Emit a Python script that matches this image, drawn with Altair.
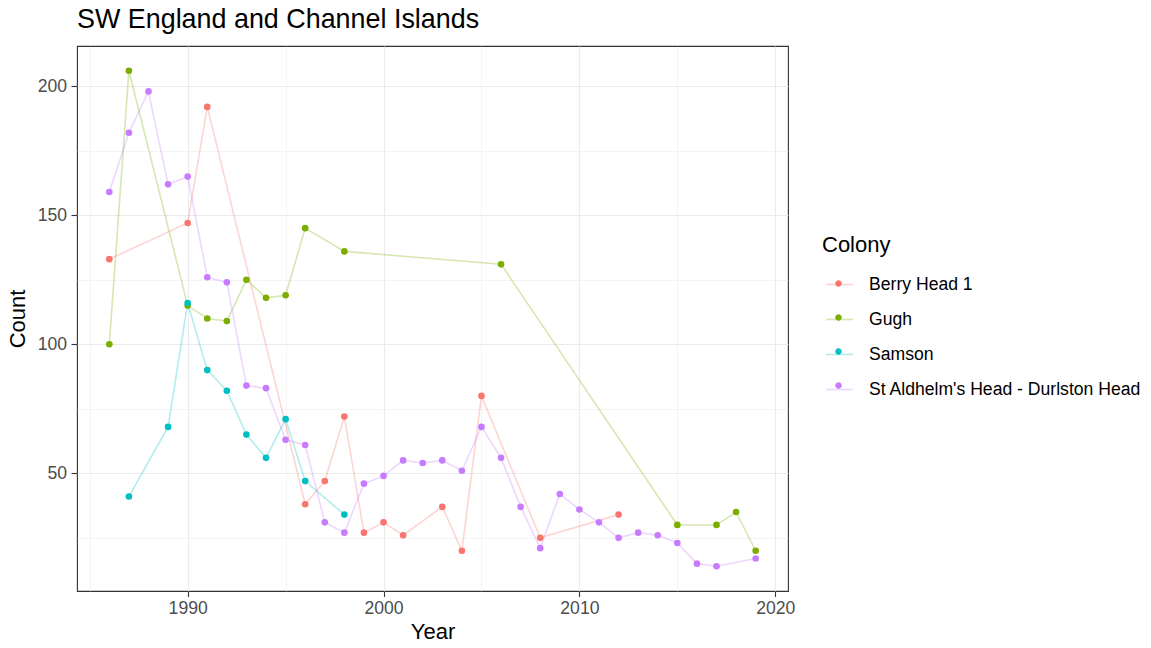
import altair as alt
import pandas as pd

# Colony counts by year
berry_years = [1986, 1990, 1991, 1996, 1997, 1998, 1999, 2000, 2001, 2003, 2004, 2005, 2008, 2012]
berry_counts = [133, 147, 192, 38, 47, 72, 27, 31, 26, 37, 20, 80, 25, 34]

gugh_years = [1986, 1987, 1990, 1991, 1992, 1993, 1994, 1995, 1996, 1998, 2006, 2015, 2017, 2018, 2019]
gugh_counts = [100, 206, 115, 110, 109, 125, 118, 119, 145, 136, 131, 30, 30, 35, 20]

samson_years = [1987, 1989, 1990, 1991, 1992, 1993, 1994, 1995, 1996, 1998]
samson_counts = [41, 68, 116, 90, 82, 65, 56, 71, 47, 34]

aldhelm_years = [1986, 1987, 1988, 1989, 1990, 1991, 1992, 1993, 1994, 1995, 1996, 1997,
                 1998, 1999, 2000, 2001, 2002, 2003, 2004, 2005, 2006, 2007, 2008, 2009,
                 2010, 2011, 2012, 2013, 2014, 2015, 2016, 2017, 2019]
aldhelm_counts = [159, 182, 198, 162, 165, 126, 124, 84, 83, 63, 61, 31,
                  27, 46, 49, 55, 54, 55, 51, 68, 56, 37, 21, 42,
                  36, 31, 25, 27, 26, 23, 15, 14, 17]

colonies = ["Berry Head 1", "Gugh", "Samson", "St Aldhelm's Head - Durlston Head"]
palette = ["#F8766D", "#7CAE00", "#00BFC4", "#C77CFF"]

x_breaks = [1985, 1990, 1995, 2000, 2005, 2010, 2015, 2020]
y_breaks = [25, 50, 75, 100, 125, 150, 175, 200]

series = [
    (colonies[0], berry_years, berry_counts),
    (colonies[1], gugh_years, gugh_counts),
    (colonies[2], samson_years, samson_counts),
    (colonies[3], aldhelm_years, aldhelm_counts),
]
rows = []
for name, yrs, cnts in series:
    for yr, c in zip(yrs, cnts):
        rows.append({"Colony": name, "Year": yr, "Count": c})
df = pd.DataFrame(rows)

FONT = "Liberation Sans"

# small filled disc used as the legend key for the point layer
DOT_PATH = "M -0.24,0 A 0.24,0.24 0 1,0 0.24,0 A 0.24,0.24 0 1,0 -0.24,0 Z"

x_enc = alt.X(
    "Year:Q",
    title="Year",
    scale=alt.Scale(domain=[1984.35, 2020.65], nice=False, zero=False),
    axis=alt.Axis(
        values=x_breaks,
        format="d",
        labelExpr="datum.value % 10 === 0 ? datum.label : ''",
        labelFlush=False,
        labelOverlap=False,
        tickSize={"condition": {"test": "datum.value % 10 === 0", "value": 5.5}, "value": 0},
        gridWidth={"condition": {"test": "datum.value % 10 === 0", "value": 1.1}, "value": 0.55},
        titlePadding=4,
    ),
)
y_enc = alt.Y(
    "Count:Q",
    title="Count",
    scale=alt.Scale(domain=[4.4, 215.6], nice=False, zero=False),
    axis=alt.Axis(
        values=y_breaks,
        labelExpr="datum.value % 50 === 0 ? datum.label : ''",
        labelOverlap=False,
        labelFlush=False,
        labelPadding=4.5,
        tickSize={"condition": {"test": "datum.value % 50 === 0", "value": 6}, "value": 0},
        gridWidth={"condition": {"test": "datum.value % 50 === 0", "value": 1.1}, "value": 0.55},
        titlePadding=7.5,
    ),
)

legend_common = dict(
    orient="none",
    legendX=745,
    legendY=189,
    padding=0,
    symbolSize=729,
    symbolOffset=3,
    labelOffset=15,
    labelLimit=500,
    rowPadding=11,
    titlePadding=13,
)

lines = alt.Chart(df).mark_line(strokeWidth=1.6, opacity=0.3).encode(
    x=x_enc,
    y=y_enc,
    order="Year:Q",
    stroke=alt.Stroke(
        "Colony:N",
        scale=alt.Scale(domain=colonies, range=palette),
        legend=alt.Legend(
            title="Colony",
            symbolType="stroke",
            symbolStrokeWidth=1.6,
            symbolOpacity=0.3,
            **legend_common,
        ),
    ),
)

# the point layer's key only adds the dots on top of the line keys
points = alt.Chart(df).mark_circle(size=44, opacity=1).encode(
    x=x_enc,
    y=y_enc,
    fill=alt.Fill(
        "Colony:N",
        scale=alt.Scale(range=palette),
        legend=alt.Legend(
            title=" ",
            labelExpr="''",
            symbolType=DOT_PATH,
            symbolStrokeWidth=0,
            symbolOpacity=1,
            **legend_common,
        ),
    ),
)

chart = (
    alt.layer(lines, points)
    .properties(
        width=711,
        height=545,
        autosize=alt.AutoSizeParams(type="none"),
        padding={"left": 77, "top": 46, "right": 363, "bottom": 57},
        title=alt.TitleParams(
            "SW England and Channel Islands",
            anchor="start",
            frame="group",
            fontSize=26.9,
            font=FONT,
            fontWeight="normal",
            color="black",
            baseline="alphabetic",
            offset=17,
            dy=26,
        ),
    )
    .configure(background="white")
    .configure_view(stroke="#333333", strokeWidth=1.1)
    .configure_axis(
        domain=False,
        grid=True,
        gridColor="#EBEBEB",
        tickColor="#333333",
        tickWidth=1.1,
        labelFont=FONT,
        labelFontSize=17.6,
        labelColor="#4D4D4D",
        labelPadding=3,
        titleFont=FONT,
        titleFontSize=22,
        titleFontWeight="normal",
        titleColor="black",
    )
    .configure_legend(
        titleFont=FONT,
        titleFontSize=22,
        titleFontWeight="normal",
        titleColor="black",
        labelFont=FONT,
        labelFontSize=17.6,
        labelColor="black",
    )
)

chart.save("out.html", embed_options={"renderer": "svg", "actions": False})
